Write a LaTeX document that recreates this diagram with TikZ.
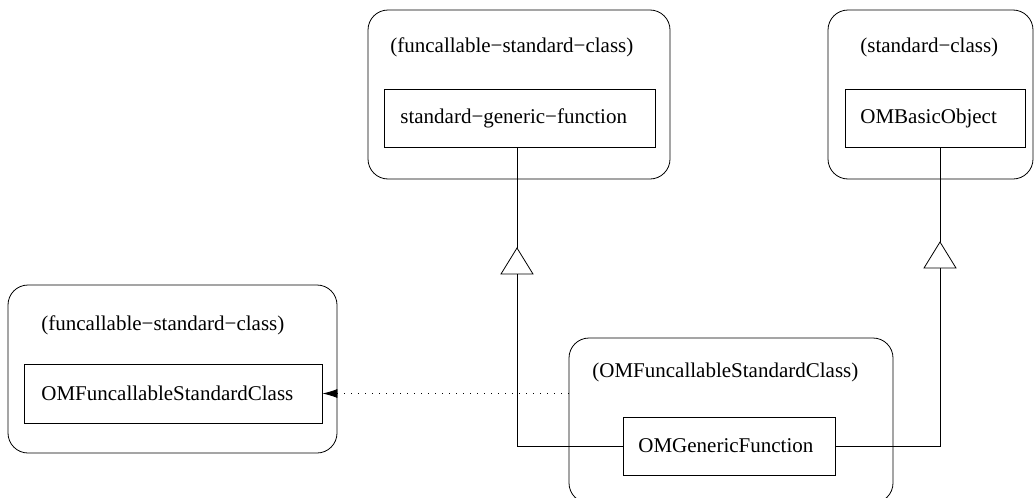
\documentclass[tikz,border=0pt]{standalone}
\usepackage{fontspec}
\setmainfont{Liberation Serif}
\usetikzlibrary{arrows.meta}
\begin{document}
\begin{tikzpicture}[x=1pt,y=-1pt,line width=0.8pt,
  outerbox/.style={draw, rounded corners=20pt, inner sep=0pt},
  innerbox/.style={draw, inner sep=0pt, fill=white},
  lbl/.style={anchor=west, inner sep=0pt, font=\fontsize{21}{25}\selectfont},
  gen/.style={draw, fill=white},
  dep/.style={dash pattern=on 1pt off 6pt, -{Latex[length=15pt,width=9pt]}}]
\useasboundingbox (0,0) rectangle (1034,498);
% outer boxes
\draw[outerbox] (368,10) rectangle (670,179);
\draw[outerbox] (828,10) rectangle (1033,179);
\draw[outerbox] (8,285) rectangle (337,453);
\draw[outerbox] (569,338) rectangle (893,503);
% named outer frame (for connector endpoint)
\node[inner sep=0pt, minimum width=324pt, minimum height=165pt] (ofsc) at (731,420.5) {};
% titles
\node[lbl] (t1) at (390,47) {(funcallable−standard−class)};
\node[lbl] (t2) at (860,47) {(standard−class)};
\node[lbl] (t3) at (41,325) {(funcallable−standard−class)};
\node[lbl] (t4) at (592,372) {(OMFuncallableStandardClass)};
% inner boxes
\node[innerbox, minimum width=271pt, minimum height=58pt] (sgf) at (519.5,118) {};
\node[lbl] at (400,118) {standard−generic−function};
\node[innerbox, minimum width=180pt, minimum height=58pt] (bo) at (935,118) {};
\node[lbl] at (860,118) {OMBasicObject};
\node[innerbox, minimum width=298pt, minimum height=59pt] (fsc) at (173,393.5) {};
\node[lbl] at (41,393.5) {OMFuncallableStandardClass};
\node[innerbox, minimum width=212pt, minimum height=58pt] (gf) at (729,446) {};
\node[lbl] at (638,446) {OMGenericFunction};
% generalization triangles
\coordinate (a1) at (517,248);
\coordinate (a2) at (940,242);
\draw (sgf.south -| a1) -- (a1);
\draw (bo.south -| a2) -- (a2);
\draw[gen] (a1) -- ++(-16,26) -- ++(32,0) -- cycle;
\draw[gen] (a2) -- ++(-16,26) -- ++(32,0) -- cycle;
\coordinate (b1) at (517,274);
\coordinate (b2) at (940,268);
\draw (b1) |- (gf.west);
\draw (gf.east) -| (b2);
% dependency
\draw[dep] (ofsc.west |- fsc.east) -- (fsc.east);
\end{tikzpicture}
\end{document}
